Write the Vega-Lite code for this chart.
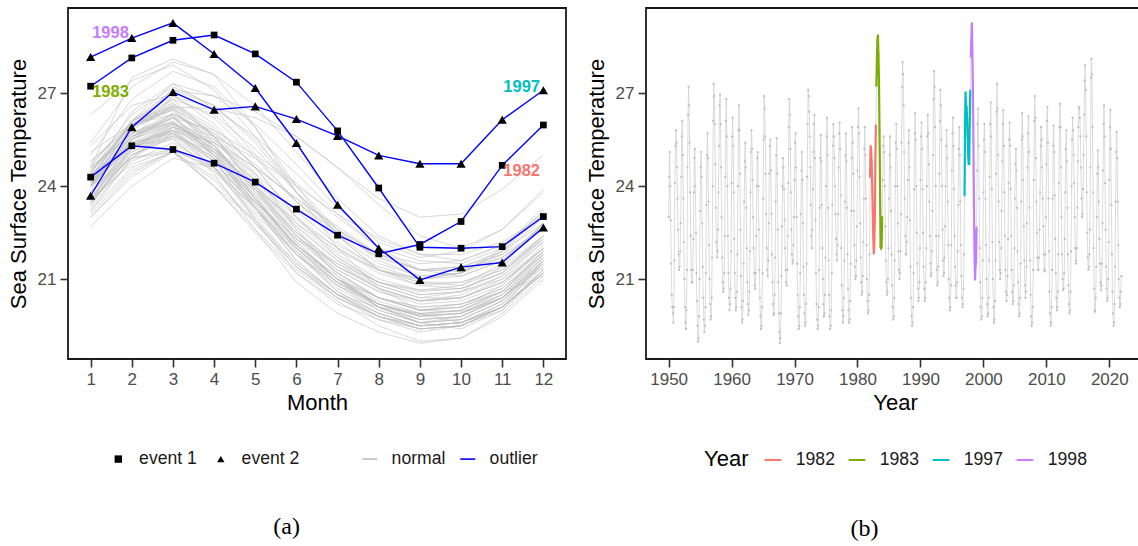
{
"$schema": "https://vega.github.io/schema/vega-lite/v6.json",
"padding": {"left": 6, "top": 7, "right": 0, "bottom": 0},
"autosize": {"type": "pad"},
"background": "white",
"datasets": {"sst": [
{"d":"1950-01","t":23.0},{"d":"1950-02","t":24.3},{"d":"1950-03","t":25.1},{"d":"1950-04","t":24.0},{"d":"1950-05","t":22.9},{"d":"1950-06","t":21.5},{"d":"1950-07","t":20.5},{"d":"1950-08","t":20.1},{"d":"1950-09","t":19.9},{"d":"1950-10","t":19.6},{"d":"1950-11","t":20.1},{"d":"1950-12","t":21.6},
{"d":"1951-01","t":24.1},{"d":"1951-02","t":25.3},{"d":"1951-03","t":25.8},{"d":"1951-04","t":25.4},{"d":"1951-05","t":24.6},{"d":"1951-06","t":23.6},{"d":"1951-07","t":22.6},{"d":"1951-08","t":21.8},{"d":"1951-09","t":21.3},{"d":"1951-10","t":21.4},{"d":"1951-11","t":21.9},{"d":"1951-12","t":22.8},
{"d":"1952-01","t":24.3},{"d":"1952-02","t":25.6},{"d":"1952-03","t":26.1},{"d":"1952-04","t":25.0},{"d":"1952-05","t":23.6},{"d":"1952-06","t":22.2},{"d":"1952-07","t":21.0},{"d":"1952-08","t":20.1},{"d":"1952-09","t":19.6},{"d":"1952-10","t":19.4},{"d":"1952-11","t":20.0},{"d":"1952-12","t":21.3},
{"d":"1953-01","t":24.6},{"d":"1953-02","t":26.3},{"d":"1953-03","t":27.2},{"d":"1953-04","t":26.6},{"d":"1953-05","t":25.4},{"d":"1953-06","t":23.8},{"d":"1953-07","t":22.4},{"d":"1953-08","t":21.3},{"d":"1953-09","t":20.9},{"d":"1953-10","t":20.9},{"d":"1953-11","t":21.3},{"d":"1953-12","t":22.3},
{"d":"1954-01","t":23.8},{"d":"1954-02","t":24.9},{"d":"1954-03","t":25.2},{"d":"1954-04","t":24.0},{"d":"1954-05","t":22.5},{"d":"1954-06","t":21.2},{"d":"1954-07","t":20.3},{"d":"1954-08","t":19.5},{"d":"1954-09","t":19.0},{"d":"1954-10","t":19.1},{"d":"1954-11","t":19.8},{"d":"1954-12","t":21.0},
{"d":"1955-01","t":23.2},{"d":"1955-02","t":24.6},{"d":"1955-03","t":25.1},{"d":"1955-04","t":24.3},{"d":"1955-05","t":22.8},{"d":"1955-06","t":21.4},{"d":"1955-07","t":20.4},{"d":"1955-08","t":19.7},{"d":"1955-09","t":19.3},{"d":"1955-10","t":19.5},{"d":"1955-11","t":20.1},{"d":"1955-12","t":21.2},
{"d":"1956-01","t":23.4},{"d":"1956-02","t":25.0},{"d":"1956-03","t":25.7},{"d":"1956-04","t":24.9},{"d":"1956-05","t":23.5},{"d":"1956-06","t":22.1},{"d":"1956-07","t":21.0},{"d":"1956-08","t":20.2},{"d":"1956-09","t":19.7},{"d":"1956-10","t":19.8},{"d":"1956-11","t":20.4},{"d":"1956-12","t":21.7},
{"d":"1957-01","t":24.0},{"d":"1957-02","t":26.1},{"d":"1957-03","t":27.3},{"d":"1957-04","t":26.9},{"d":"1957-05","t":26.0},{"d":"1957-06","t":24.7},{"d":"1957-07","t":23.3},{"d":"1957-08","t":22.2},{"d":"1957-09","t":21.7},{"d":"1957-10","t":21.9},{"d":"1957-11","t":22.6},{"d":"1957-12","t":23.8},
{"d":"1958-01","t":25.3},{"d":"1958-02","t":26.6},{"d":"1958-03","t":26.95},{"d":"1958-04","t":26.0},{"d":"1958-05","t":24.6},{"d":"1958-06","t":23.0},{"d":"1958-07","t":21.7},{"d":"1958-08","t":20.9},{"d":"1958-09","t":20.6},{"d":"1958-10","t":20.7},{"d":"1958-11","t":21.2},{"d":"1958-12","t":22.4},
{"d":"1959-01","t":24.3},{"d":"1959-02","t":26.1},{"d":"1959-03","t":26.8},{"d":"1959-04","t":25.6},{"d":"1959-05","t":24.0},{"d":"1959-06","t":22.4},{"d":"1959-07","t":21.2},{"d":"1959-08","t":20.4},{"d":"1959-09","t":20.0},{"d":"1959-10","t":20.2},{"d":"1959-11","t":20.7},{"d":"1959-12","t":21.9},
{"d":"1960-01","t":24.1},{"d":"1960-02","t":25.6},{"d":"1960-03","t":26.2},{"d":"1960-04","t":25.3},{"d":"1960-05","t":23.8},{"d":"1960-06","t":22.3},{"d":"1960-07","t":21.2},{"d":"1960-08","t":20.4},{"d":"1960-09","t":20.0},{"d":"1960-10","t":20.1},{"d":"1960-11","t":20.6},{"d":"1960-12","t":21.8},
{"d":"1961-01","t":24.0},{"d":"1961-02","t":25.8},{"d":"1961-03","t":26.6},{"d":"1961-04","t":25.8},{"d":"1961-05","t":24.4},{"d":"1961-06","t":22.6},{"d":"1961-07","t":21.1},{"d":"1961-08","t":20.1},{"d":"1961-09","t":19.6},{"d":"1961-10","t":19.7},{"d":"1961-11","t":20.3},{"d":"1961-12","t":21.5},
{"d":"1962-01","t":23.5},{"d":"1962-02","t":24.8},{"d":"1962-03","t":25.4},{"d":"1962-04","t":24.6},{"d":"1962-05","t":23.3},{"d":"1962-06","t":22.0},{"d":"1962-07","t":20.9},{"d":"1962-08","t":20.2},{"d":"1962-09","t":19.85},{"d":"1962-10","t":20.0},{"d":"1962-11","t":20.6},{"d":"1962-12","t":21.9},
{"d":"1963-01","t":23.8},{"d":"1963-02","t":25.1},{"d":"1963-03","t":25.8},{"d":"1963-04","t":25.2},{"d":"1963-05","t":24.2},{"d":"1963-06","t":23.0},{"d":"1963-07","t":22.0},{"d":"1963-08","t":21.2},{"d":"1963-09","t":20.8},{"d":"1963-10","t":20.7},{"d":"1963-11","t":21.2},{"d":"1963-12","t":22.4},
{"d":"1964-01","t":24.0},{"d":"1964-02","t":24.9},{"d":"1964-03","t":25.1},{"d":"1964-04","t":24.0},{"d":"1964-05","t":22.6},{"d":"1964-06","t":21.3},{"d":"1964-07","t":20.4},{"d":"1964-08","t":19.8},{"d":"1964-09","t":19.4},{"d":"1964-10","t":19.5},{"d":"1964-11","t":20.1},{"d":"1964-12","t":21.2},
{"d":"1965-01","t":23.6},{"d":"1965-02","t":25.5},{"d":"1965-03","t":26.9},{"d":"1965-04","t":26.5},{"d":"1965-05","t":25.6},{"d":"1965-06","t":24.4},{"d":"1965-07","t":23.1},{"d":"1965-08","t":22.0},{"d":"1965-09","t":21.3},{"d":"1965-10","t":21.1},{"d":"1965-11","t":21.6},{"d":"1965-12","t":22.8},
{"d":"1966-01","t":24.4},{"d":"1966-02","t":25.3},{"d":"1966-03","t":25.5},{"d":"1966-04","t":24.5},{"d":"1966-05","t":23.1},{"d":"1966-06","t":21.8},{"d":"1966-07","t":20.9},{"d":"1966-08","t":20.2},{"d":"1966-09","t":19.85},{"d":"1966-10","t":19.9},{"d":"1966-11","t":20.5},{"d":"1966-12","t":21.7},
{"d":"1967-01","t":23.5},{"d":"1967-02","t":25.0},{"d":"1967-03","t":25.55},{"d":"1967-04","t":24.4},{"d":"1967-05","t":22.6},{"d":"1967-06","t":20.9},{"d":"1967-07","t":19.9},{"d":"1967-08","t":19.3},{"d":"1967-09","t":18.94},{"d":"1967-10","t":19.1},{"d":"1967-11","t":19.9},{"d":"1967-12","t":21.1},
{"d":"1968-01","t":22.7},{"d":"1968-02","t":24.0},{"d":"1968-03","t":24.9},{"d":"1968-04","t":24.6},{"d":"1968-05","t":23.9},{"d":"1968-06","t":22.9},{"d":"1968-07","t":22.0},{"d":"1968-08","t":21.3},{"d":"1968-09","t":20.9},{"d":"1968-10","t":20.8},{"d":"1968-11","t":21.3},{"d":"1968-12","t":22.4},
{"d":"1969-01","t":24.1},{"d":"1969-02","t":25.9},{"d":"1969-03","t":26.8},{"d":"1969-04","t":26.3},{"d":"1969-05","t":25.2},{"d":"1969-06","t":23.8},{"d":"1969-07","t":22.6},{"d":"1969-08","t":21.8},{"d":"1969-09","t":21.5},{"d":"1969-10","t":21.6},{"d":"1969-11","t":22.1},{"d":"1969-12","t":23.0},
{"d":"1970-01","t":24.2},{"d":"1970-02","t":25.4},{"d":"1970-03","t":25.7},{"d":"1970-04","t":24.6},{"d":"1970-05","t":23.0},{"d":"1970-06","t":21.5},{"d":"1970-07","t":20.5},{"d":"1970-08","t":19.8},{"d":"1970-09","t":19.4},{"d":"1970-10","t":19.5},{"d":"1970-11","t":20.1},{"d":"1970-12","t":21.2},
{"d":"1971-01","t":23.1},{"d":"1971-02","t":24.5},{"d":"1971-03","t":25.1},{"d":"1971-04","t":24.2},{"d":"1971-05","t":22.8},{"d":"1971-06","t":21.4},{"d":"1971-07","t":20.5},{"d":"1971-08","t":19.9},{"d":"1971-09","t":19.5},{"d":"1971-10","t":19.6},{"d":"1971-11","t":20.2},{"d":"1971-12","t":21.5},
{"d":"1972-01","t":24.3},{"d":"1972-02","t":26.0},{"d":"1972-03","t":27.1},{"d":"1972-04","t":26.9},{"d":"1972-05","t":26.4},{"d":"1972-06","t":25.6},{"d":"1972-07","t":24.6},{"d":"1972-08","t":23.4},{"d":"1972-09","t":22.4},{"d":"1972-10","t":22.0},{"d":"1972-11","t":22.6},{"d":"1972-12","t":23.9},
{"d":"1973-01","t":25.1},{"d":"1973-02","t":26.0},{"d":"1973-03","t":26.3},{"d":"1973-04","t":24.9},{"d":"1973-05","t":22.9},{"d":"1973-06","t":21.2},{"d":"1973-07","t":20.2},{"d":"1973-08","t":19.7},{"d":"1973-09","t":19.4},{"d":"1973-10","t":19.5},{"d":"1973-11","t":20.1},{"d":"1973-12","t":21.3},
{"d":"1974-01","t":23.3},{"d":"1974-02","t":24.9},{"d":"1974-03","t":25.65},{"d":"1974-04","t":24.8},{"d":"1974-05","t":23.4},{"d":"1974-06","t":22.0},{"d":"1974-07","t":21.0},{"d":"1974-08","t":20.2},{"d":"1974-09","t":19.8},{"d":"1974-10","t":19.9},{"d":"1974-11","t":20.5},{"d":"1974-12","t":21.7},
{"d":"1975-01","t":24.0},{"d":"1975-02","t":25.6},{"d":"1975-03","t":26.2},{"d":"1975-04","t":25.0},{"d":"1975-05","t":23.3},{"d":"1975-06","t":21.6},{"d":"1975-07","t":20.5},{"d":"1975-08","t":19.8},{"d":"1975-09","t":19.4},{"d":"1975-10","t":19.5},{"d":"1975-11","t":20.0},{"d":"1975-12","t":21.2},
{"d":"1976-01","t":23.4},{"d":"1976-02","t":25.3},{"d":"1976-03","t":26.0},{"d":"1976-04","t":25.6},{"d":"1976-05","t":24.9},{"d":"1976-06","t":24.0},{"d":"1976-07","t":23.1},{"d":"1976-08","t":22.3},{"d":"1976-09","t":21.8},{"d":"1976-10","t":21.6},{"d":"1976-11","t":22.1},{"d":"1976-12","t":23.1},
{"d":"1977-01","t":24.6},{"d":"1977-02","t":25.7},{"d":"1977-03","t":26.05},{"d":"1977-04","t":25.2},{"d":"1977-05","t":23.7},{"d":"1977-06","t":22.0},{"d":"1977-07","t":20.8},{"d":"1977-08","t":20.0},{"d":"1977-09","t":19.6},{"d":"1977-10","t":19.8},{"d":"1977-11","t":20.4},{"d":"1977-12","t":21.6},
{"d":"1978-01","t":23.5},{"d":"1978-02","t":25.0},{"d":"1978-03","t":25.7},{"d":"1978-04","t":24.8},{"d":"1978-05","t":23.3},{"d":"1978-06","t":21.8},{"d":"1978-07","t":20.7},{"d":"1978-08","t":20.0},{"d":"1978-09","t":19.6},{"d":"1978-10","t":19.7},{"d":"1978-11","t":20.3},{"d":"1978-12","t":21.5},
{"d":"1979-01","t":23.2},{"d":"1979-02","t":24.9},{"d":"1979-03","t":25.9},{"d":"1979-04","t":25.4},{"d":"1979-05","t":24.4},{"d":"1979-06","t":23.2},{"d":"1979-07","t":22.1},{"d":"1979-08","t":21.4},{"d":"1979-09","t":21.0},{"d":"1979-10","t":21.1},{"d":"1979-11","t":21.6},{"d":"1979-12","t":22.7},
{"d":"1980-01","t":24.5},{"d":"1980-02","t":25.9},{"d":"1980-03","t":26.5},{"d":"1980-04","t":25.7},{"d":"1980-05","t":24.3},{"d":"1980-06","t":22.8},{"d":"1980-07","t":21.7},{"d":"1980-08","t":20.9},{"d":"1980-09","t":20.5},{"d":"1980-10","t":20.6},{"d":"1980-11","t":21.1},{"d":"1980-12","t":22.2},
{"d":"1981-01","t":23.6},{"d":"1981-02","t":25.2},{"d":"1981-03","t":25.9},{"d":"1981-04","t":25.0},{"d":"1981-05","t":23.6},{"d":"1981-06","t":22.1},{"d":"1981-07","t":21.0},{"d":"1981-08","t":20.3},{"d":"1981-09","t":19.9},{"d":"1981-10","t":20.0},{"d":"1981-11","t":20.5},{"d":"1981-12","t":21.8},
{"d":"1982-01","t":24.29},{"d":"1982-02","t":25.30},{"d":"1982-03","t":25.18},{"d":"1982-04","t":24.74},{"d":"1982-05","t":24.13},{"d":"1982-06","t":23.26},{"d":"1982-07","t":22.42},{"d":"1982-08","t":21.82},{"d":"1982-09","t":22.12},{"d":"1982-10","t":22.86},{"d":"1982-11","t":24.67},{"d":"1982-12","t":25.97},
{"d":"1983-01","t":27.22},{"d":"1983-02","t":28.13},{"d":"1983-03","t":28.70},{"d":"1983-04","t":28.87},{"d":"1983-05","t":28.26},{"d":"1983-06","t":27.35},{"d":"1983-07","t":25.78},{"d":"1983-08","t":23.94},{"d":"1983-09","t":22.03},{"d":"1983-10","t":22.00},{"d":"1983-11","t":22.05},{"d":"1983-12","t":23.02},
{"d":"1984-01","t":24.2},{"d":"1984-02","t":25.3},{"d":"1984-03","t":25.6},{"d":"1984-04","t":25.1},{"d":"1984-05","t":24.0},{"d":"1984-06","t":22.7},{"d":"1984-07","t":21.6},{"d":"1984-08","t":20.9},{"d":"1984-09","t":20.5},{"d":"1984-10","t":20.6},{"d":"1984-11","t":21.0},{"d":"1984-12","t":22.0},
{"d":"1985-01","t":23.6},{"d":"1985-02","t":25.0},{"d":"1985-03","t":25.6},{"d":"1985-04","t":24.6},{"d":"1985-05","t":23.2},{"d":"1985-06","t":21.8},{"d":"1985-07","t":20.8},{"d":"1985-08","t":20.1},{"d":"1985-09","t":19.7},{"d":"1985-10","t":19.8},{"d":"1985-11","t":20.4},{"d":"1985-12","t":21.6},
{"d":"1986-01","t":24.0},{"d":"1986-02","t":25.4},{"d":"1986-03","t":26.0},{"d":"1986-04","t":25.2},{"d":"1986-05","t":24.0},{"d":"1986-06","t":22.8},{"d":"1986-07","t":21.9},{"d":"1986-08","t":21.3},{"d":"1986-09","t":21.0},{"d":"1986-10","t":21.2},{"d":"1986-11","t":21.9},{"d":"1986-12","t":23.1},
{"d":"1987-01","t":25.4},{"d":"1987-02","t":27.2},{"d":"1987-03","t":28.0},{"d":"1987-04","t":27.6},{"d":"1987-05","t":26.6},{"d":"1987-06","t":25.1},{"d":"1987-07","t":23.6},{"d":"1987-08","t":22.4},{"d":"1987-09","t":21.8},{"d":"1987-10","t":21.8},{"d":"1987-11","t":22.2},{"d":"1987-12","t":23.0},
{"d":"1988-01","t":24.2},{"d":"1988-02","t":25.4},{"d":"1988-03","t":25.8},{"d":"1988-04","t":24.6},{"d":"1988-05","t":22.9},{"d":"1988-06","t":21.4},{"d":"1988-07","t":20.4},{"d":"1988-08","t":19.8},{"d":"1988-09","t":19.5},{"d":"1988-10","t":19.6},{"d":"1988-11","t":20.1},{"d":"1988-12","t":21.2},
{"d":"1989-01","t":23.9},{"d":"1989-02","t":25.7},{"d":"1989-03","t":26.35},{"d":"1989-04","t":25.5},{"d":"1989-05","t":24.0},{"d":"1989-06","t":22.5},{"d":"1989-07","t":21.5},{"d":"1989-08","t":20.7},{"d":"1989-09","t":20.3},{"d":"1989-10","t":20.4},{"d":"1989-11","t":20.9},{"d":"1989-12","t":22.0},
{"d":"1990-01","t":24.2},{"d":"1990-02","t":25.6},{"d":"1990-03","t":26.05},{"d":"1990-04","t":25.2},{"d":"1990-05","t":23.9},{"d":"1990-06","t":22.5},{"d":"1990-07","t":21.4},{"d":"1990-08","t":20.7},{"d":"1990-09","t":20.3},{"d":"1990-10","t":20.4},{"d":"1990-11","t":20.9},{"d":"1990-12","t":22.0},
{"d":"1991-01","t":24.0},{"d":"1991-02","t":25.6},{"d":"1991-03","t":26.3},{"d":"1991-04","t":25.7},{"d":"1991-05","t":24.7},{"d":"1991-06","t":23.5},{"d":"1991-07","t":22.4},{"d":"1991-08","t":21.5},{"d":"1991-09","t":21.1},{"d":"1991-10","t":21.2},{"d":"1991-11","t":21.9},{"d":"1991-12","t":23.2},
{"d":"1992-01","t":25.0},{"d":"1992-02","t":26.8},{"d":"1992-03","t":27.7},{"d":"1992-04","t":27.2},{"d":"1992-05","t":25.9},{"d":"1992-06","t":24.0},{"d":"1992-07","t":22.4},{"d":"1992-08","t":21.3},{"d":"1992-09","t":20.8},{"d":"1992-10","t":20.9},{"d":"1992-11","t":21.4},{"d":"1992-12","t":22.4},
{"d":"1993-01","t":24.4},{"d":"1993-02","t":26.1},{"d":"1993-03","t":27.1},{"d":"1993-04","t":26.6},{"d":"1993-05","t":25.5},{"d":"1993-06","t":24.0},{"d":"1993-07","t":22.6},{"d":"1993-08","t":21.6},{"d":"1993-09","t":21.1},{"d":"1993-10","t":21.2},{"d":"1993-11","t":21.7},{"d":"1993-12","t":22.7},
{"d":"1994-01","t":24.0},{"d":"1994-02","t":25.3},{"d":"1994-03","t":25.8},{"d":"1994-04","t":24.9},{"d":"1994-05","t":23.5},{"d":"1994-06","t":22.1},{"d":"1994-07","t":21.0},{"d":"1994-08","t":20.4},{"d":"1994-09","t":20.0},{"d":"1994-10","t":20.1},{"d":"1994-11","t":20.8},{"d":"1994-12","t":22.1},
{"d":"1995-01","t":24.5},{"d":"1995-02","t":25.7},{"d":"1995-03","t":26.2},{"d":"1995-04","t":25.3},{"d":"1995-05","t":23.9},{"d":"1995-06","t":22.4},{"d":"1995-07","t":21.4},{"d":"1995-08","t":20.8},{"d":"1995-09","t":20.4},{"d":"1995-10","t":20.4},{"d":"1995-11","t":20.9},{"d":"1995-12","t":21.9},
{"d":"1996-01","t":23.4},{"d":"1996-02","t":25.2},{"d":"1996-03","t":25.9},{"d":"1996-04","t":25.0},{"d":"1996-05","t":23.5},{"d":"1996-06","t":22.1},{"d":"1996-07","t":21.1},{"d":"1996-08","t":20.4},{"d":"1996-09","t":20.1},{"d":"1996-10","t":20.2},{"d":"1996-11","t":20.7},{"d":"1996-12","t":21.8},
{"d":"1997-01","t":23.69},{"d":"1997-02","t":25.90},{"d":"1997-03","t":27.03},{"d":"1997-04","t":26.46},{"d":"1997-05","t":26.57},{"d":"1997-06","t":26.16},{"d":"1997-07","t":25.62},{"d":"1997-08","t":24.99},{"d":"1997-09","t":24.72},{"d":"1997-10","t":24.72},{"d":"1997-11","t":26.14},{"d":"1997-12","t":27.09},
{"d":"1998-01","t":28.16},{"d":"1998-02","t":28.77},{"d":"1998-03","t":29.26},{"d":"1998-04","t":28.26},{"d":"1998-05","t":27.16},{"d":"1998-06","t":25.39},{"d":"1998-07","t":23.40},{"d":"1998-08","t":22.00},{"d":"1998-09","t":20.98},{"d":"1998-10","t":21.39},{"d":"1998-11","t":21.54},{"d":"1998-12","t":22.67},
{"d":"1999-01","t":24.5},{"d":"1999-02","t":26.0},{"d":"1999-03","t":26.5},{"d":"1999-04","t":25.3},{"d":"1999-05","t":23.6},{"d":"1999-06","t":22.0},{"d":"1999-07","t":20.9},{"d":"1999-08","t":20.1},{"d":"1999-09","t":19.7},{"d":"1999-10","t":19.8},{"d":"1999-11","t":20.4},{"d":"1999-12","t":21.6},
{"d":"2000-01","t":23.8},{"d":"2000-02","t":25.5},{"d":"2000-03","t":26.0},{"d":"2000-04","t":25.1},{"d":"2000-05","t":23.6},{"d":"2000-06","t":22.1},{"d":"2000-07","t":21.0},{"d":"2000-08","t":20.2},{"d":"2000-09","t":19.8},{"d":"2000-10","t":19.9},{"d":"2000-11","t":20.4},{"d":"2000-12","t":21.6},
{"d":"2001-01","t":24.3},{"d":"2001-02","t":26.0},{"d":"2001-03","t":26.7},{"d":"2001-04","t":25.6},{"d":"2001-05","t":23.9},{"d":"2001-06","t":22.2},{"d":"2001-07","t":21.0},{"d":"2001-08","t":20.1},{"d":"2001-09","t":19.6},{"d":"2001-10","t":19.7},{"d":"2001-11","t":20.3},{"d":"2001-12","t":21.6},
{"d":"2002-01","t":24.4},{"d":"2002-02","t":26.4},{"d":"2002-03","t":27.3},{"d":"2002-04","t":26.5},{"d":"2002-05","t":25.0},{"d":"2002-06","t":23.5},{"d":"2002-07","t":22.2},{"d":"2002-08","t":21.3},{"d":"2002-09","t":21.0},{"d":"2002-10","t":21.2},{"d":"2002-11","t":22.0},{"d":"2002-12","t":23.2},
{"d":"2003-01","t":24.8},{"d":"2003-02","t":26.0},{"d":"2003-03","t":26.45},{"d":"2003-04","t":25.3},{"d":"2003-05","t":23.8},{"d":"2003-06","t":22.4},{"d":"2003-07","t":21.3},{"d":"2003-08","t":20.6},{"d":"2003-09","t":20.3},{"d":"2003-10","t":20.5},{"d":"2003-11","t":21.1},{"d":"2003-12","t":22.3},
{"d":"2004-01","t":24.1},{"d":"2004-02","t":25.5},{"d":"2004-03","t":26.05},{"d":"2004-04","t":25.3},{"d":"2004-05","t":23.9},{"d":"2004-06","t":22.4},{"d":"2004-07","t":21.3},{"d":"2004-08","t":20.6},{"d":"2004-09","t":20.2},{"d":"2004-10","t":20.3},{"d":"2004-11","t":20.8},{"d":"2004-12","t":22.0},
{"d":"2005-01","t":23.6},{"d":"2005-02","t":24.7},{"d":"2005-03","t":25.2},{"d":"2005-04","t":24.5},{"d":"2005-05","t":23.3},{"d":"2005-06","t":21.9},{"d":"2005-07","t":20.9},{"d":"2005-08","t":20.2},{"d":"2005-09","t":19.8},{"d":"2005-10","t":19.9},{"d":"2005-11","t":20.4},{"d":"2005-12","t":21.5},
{"d":"2006-01","t":23.5},{"d":"2006-02","t":25.5},{"d":"2006-03","t":26.35},{"d":"2006-04","t":25.6},{"d":"2006-05","t":24.2},{"d":"2006-06","t":22.7},{"d":"2006-07","t":21.6},{"d":"2006-08","t":20.8},{"d":"2006-09","t":20.4},{"d":"2006-10","t":20.6},{"d":"2006-11","t":21.4},{"d":"2006-12","t":22.8},
{"d":"2007-01","t":24.6},{"d":"2007-02","t":25.7},{"d":"2007-03","t":26.25},{"d":"2007-04","t":25.1},{"d":"2007-05","t":23.3},{"d":"2007-06","t":21.6},{"d":"2007-07","t":20.5},{"d":"2007-08","t":19.8},{"d":"2007-09","t":19.5},{"d":"2007-10","t":19.6},{"d":"2007-11","t":20.1},{"d":"2007-12","t":21.3},
{"d":"2008-01","t":24.2},{"d":"2008-02","t":26.1},{"d":"2008-03","t":26.9},{"d":"2008-04","t":26.2},{"d":"2008-05","t":24.9},{"d":"2008-06","t":23.5},{"d":"2008-07","t":22.5},{"d":"2008-08","t":21.7},{"d":"2008-09","t":21.3},{"d":"2008-10","t":21.3},{"d":"2008-11","t":21.7},{"d":"2008-12","t":22.6},
{"d":"2009-01","t":23.8},{"d":"2009-02","t":25.3},{"d":"2009-03","t":25.9},{"d":"2009-04","t":25.5},{"d":"2009-05","t":24.6},{"d":"2009-06","t":23.6},{"d":"2009-07","t":22.7},{"d":"2009-08","t":21.8},{"d":"2009-09","t":21.3},{"d":"2009-10","t":21.25},{"d":"2009-11","t":21.8},{"d":"2009-12","t":23.0},
{"d":"2010-01","t":24.7},{"d":"2010-02","t":26.1},{"d":"2010-03","t":26.55},{"d":"2010-04","t":25.4},{"d":"2010-05","t":23.6},{"d":"2010-06","t":21.9},{"d":"2010-07","t":20.6},{"d":"2010-08","t":19.9},{"d":"2010-09","t":19.5},{"d":"2010-10","t":19.6},{"d":"2010-11","t":20.1},{"d":"2010-12","t":21.3},
{"d":"2011-01","t":23.6},{"d":"2011-02","t":25.3},{"d":"2011-03","t":25.95},{"d":"2011-04","t":25.1},{"d":"2011-05","t":23.7},{"d":"2011-06","t":22.3},{"d":"2011-07","t":21.2},{"d":"2011-08","t":20.4},{"d":"2011-09","t":20.0},{"d":"2011-10","t":20.1},{"d":"2011-11","t":20.6},{"d":"2011-12","t":21.8},
{"d":"2012-01","t":24.1},{"d":"2012-02","t":25.9},{"d":"2012-03","t":26.65},{"d":"2012-04","t":25.9},{"d":"2012-05","t":24.6},{"d":"2012-06","t":23.0},{"d":"2012-07","t":21.8},{"d":"2012-08","t":21.0},{"d":"2012-09","t":20.65},{"d":"2012-10","t":20.7},{"d":"2012-11","t":21.2},{"d":"2012-12","t":22.3},
{"d":"2013-01","t":23.8},{"d":"2013-02","t":25.2},{"d":"2013-03","t":25.8},{"d":"2013-04","t":24.8},{"d":"2013-05","t":23.3},{"d":"2013-06","t":21.8},{"d":"2013-07","t":20.8},{"d":"2013-08","t":20.2},{"d":"2013-09","t":19.9},{"d":"2013-10","t":20.0},{"d":"2013-11","t":20.6},{"d":"2013-12","t":21.9},
{"d":"2014-01","t":24.0},{"d":"2014-02","t":25.5},{"d":"2014-03","t":26.2},{"d":"2014-04","t":25.8},{"d":"2014-05","t":25.0},{"d":"2014-06","t":24.1},{"d":"2014-07","t":23.0},{"d":"2014-08","t":22.0},{"d":"2014-09","t":21.6},{"d":"2014-10","t":21.5},{"d":"2014-11","t":22.0},{"d":"2014-12","t":23.3},
{"d":"2015-01","t":24.8},{"d":"2015-02","t":25.9},{"d":"2015-03","t":26.55},{"d":"2015-04","t":26.5},{"d":"2015-05","t":26.2},{"d":"2015-06","t":25.6},{"d":"2015-07","t":24.6},{"d":"2015-08","t":23.6},{"d":"2015-09","t":23.0},{"d":"2015-10","t":23.1},{"d":"2015-11","t":23.9},{"d":"2015-12","t":25.0},
{"d":"2016-01","t":26.3},{"d":"2016-02","t":27.4},{"d":"2016-03","t":27.9},{"d":"2016-04","t":27.1},{"d":"2016-05","t":25.6},{"d":"2016-06","t":23.8},{"d":"2016-07","t":22.5},{"d":"2016-08","t":21.7},{"d":"2016-09","t":21.3},{"d":"2016-10","t":21.4},{"d":"2016-11","t":21.8},{"d":"2016-12","t":22.6},
{"d":"2017-01","t":24.6},{"d":"2017-02","t":27.5},{"d":"2017-03","t":28.1},{"d":"2017-04","t":27.6},{"d":"2017-05","t":25.9},{"d":"2017-06","t":23.8},{"d":"2017-07","t":22.0},{"d":"2017-08","t":20.7},{"d":"2017-09","t":20.0},{"d":"2017-10","t":19.95},{"d":"2017-11","t":20.4},{"d":"2017-12","t":21.4},
{"d":"2018-01","t":23.0},{"d":"2018-02","t":24.4},{"d":"2018-03","t":25.15},{"d":"2018-04","t":24.6},{"d":"2018-05","t":23.5},{"d":"2018-06","t":22.3},{"d":"2018-07","t":21.5},{"d":"2018-08","t":20.9},{"d":"2018-09","t":20.65},{"d":"2018-10","t":20.8},{"d":"2018-11","t":21.5},{"d":"2018-12","t":22.8},
{"d":"2019-01","t":24.5},{"d":"2019-02","t":26.0},{"d":"2019-03","t":26.6},{"d":"2019-04","t":25.6},{"d":"2019-05","t":24.1},{"d":"2019-06","t":22.6},{"d":"2019-07","t":21.4},{"d":"2019-08","t":20.7},{"d":"2019-09","t":20.3},{"d":"2019-10","t":20.4},{"d":"2019-11","t":21.0},{"d":"2019-12","t":22.2},
{"d":"2020-01","t":24.2},{"d":"2020-02","t":25.9},{"d":"2020-03","t":26.45},{"d":"2020-04","t":25.2},{"d":"2020-05","t":23.4},{"d":"2020-06","t":21.8},{"d":"2020-07","t":20.6},{"d":"2020-08","t":19.9},{"d":"2020-09","t":19.5},{"d":"2020-10","t":19.6},{"d":"2020-11","t":20.2},{"d":"2020-12","t":21.4},
{"d":"2021-01","t":23.5},{"d":"2021-02","t":25.1},{"d":"2021-03","t":25.75},{"d":"2021-04","t":24.9},{"d":"2021-05","t":23.5},{"d":"2021-06","t":22.1},{"d":"2021-07","t":21.0},{"d":"2021-08","t":20.4},{"d":"2021-09","t":20.1},{"d":"2021-10","t":20.2},{"d":"2021-11","t":20.6},{"d":"2021-12","t":21.1}
]},
"spacing": 80,
"bounds": "flush",
"resolve": {
 "scale": {"color": "independent", "shape": "independent", "fill": "independent"},
 "legend": {"color": "independent", "shape": "independent", "fill": "independent"}
},
"hconcat": [
{
 "width": 498, "height": 351,
 "title": {"text": "(a)", "orient": "bottom", "anchor": "middle", "frame": "bounds", "offset": 47},
 "data": {"name": "sst"},
 "encoding": {
  "x": {"field": "d", "timeUnit": "utcmonth", "type": "ordinal", "scale": {"type": "point", "padding": 0.55},
        "axis": {"title": "Month", "labelExpr": "utcFormat(datum.value, '%-m')", "labelAngle": 0}},
  "y": {"field": "t", "type": "quantitative", "scale": {"domain": [18.43, 29.74], "nice": false, "zero": false},
        "axis": {"title": "Sea Surface Temperature", "values": [21, 24, 27]}}
 },
 "layer": [
  {"transform": [{"filter": "indexof([1982,1983,1997,1998], utcyear(toDate(datum.d))) < 0"}],
   "mark": {"type": "line", "strokeWidth": 1, "opacity": 0.6},
   "encoding": {
    "detail": {"field": "d", "timeUnit": "utcyear", "type": "nominal"},
    "color": {"datum": "normal", "type": "nominal",
      "scale": {"domain": ["normal", "outlier"], "range": ["#bebebe", "#0000ff"]},
      "legend": {"title": null, "orient": "none", "legendX": 293, "legendY": 442, "direction": "horizontal",
                 "symbolType": "stroke", "symbolSize": 225, "symbolStrokeWidth": 1.6, "symbolOpacity": 1,
                 "labelOffset": 13, "columnPadding": 11}}
   }},
  {"transform": [{"filter": "indexof([1982,1983,1997,1998], utcyear(toDate(datum.d))) >= 0"}],
   "mark": {"type": "line", "strokeWidth": 1.4},
   "encoding": {
    "detail": {"field": "d", "timeUnit": "utcyear", "type": "nominal"},
    "color": {"datum": "outlier", "type": "nominal"}
   }},
  {"transform": [{"filter": "indexof([1982,1983], utcyear(toDate(datum.d))) >= 0"}],
   "mark": {"type": "point", "filled": true, "color": "black", "opacity": 1, "size": 45},
   "encoding": {
    "shape": {"datum": "event 1", "type": "nominal",
      "scale": {"domain": ["event 1", "event 2"], "range": ["square", "triangle-up"]},
      "legend": {"title": null, "orient": "none", "legendX": 41.5, "legendY": 442, "direction": "horizontal",
                 "symbolSize": 55, "symbolFillColor": "black", "symbolStrokeWidth": 0,
                 "labelOffset": 12, "columnPadding": 14.5}}
   }},
  {"transform": [{"filter": "indexof([1997,1998], utcyear(toDate(datum.d))) >= 0"}],
   "mark": {"type": "point", "filled": true, "color": "black", "opacity": 1, "size": 86},
   "encoding": {
    "shape": {"datum": "event 2", "type": "nominal"}
   }},
  {"data": {"values": [{"d": "1998-01", "t": 28.92, "lab": "1998"}, {"d": "1983-01", "t": 27.02, "lab": "1983"}]},
   "mark": {"type": "text", "align": "left", "baseline": "middle", "dx": 1.5, "fontWeight": "bold", "fontSize": 16.5},
   "encoding": {
    "text": {"field": "lab"},
    "fill": {"field": "lab", "type": "nominal",
      "scale": {"domain": ["1982", "1983", "1997", "1998"], "range": ["#F8766D", "#7CAE00", "#00BFC4", "#C77CFF"]},
      "legend": null}
   }},
  {"data": {"values": [{"d": "1997-12", "t": 27.19, "lab": "1997"}, {"d": "1982-12", "t": 24.48, "lab": "1982"}]},
   "mark": {"type": "text", "align": "right", "baseline": "middle", "dx": -3.3, "fontWeight": "bold", "fontSize": 16.5},
   "encoding": {
    "text": {"field": "lab"},
    "fill": {"field": "lab", "type": "nominal", "legend": null}
   }}
 ]
},
{
 "width": 498, "height": 351,
 "title": {"text": "(b)", "orient": "bottom", "anchor": "middle", "frame": "bounds", "offset": 47},
 "data": {"name": "sst"},
 "encoding": {
  "x": {"field": "d", "type": "temporal",
        "scale": {"type": "utc", "domain": [{"year": 1946, "month": 5, "date": 28, "utc": true}, {"year": 2025, "month": 7, "date": 6, "utc": true}]},
        "axis": {"title": "Year", "format": "%Y", "formatType": "utc", "tickCount": {"interval": "year", "step": 10}}},
  "y": {"field": "t", "type": "quantitative", "scale": {"domain": [18.43, 29.74], "nice": false, "zero": false},
        "axis": {"title": "Sea Surface Temperature", "values": [21, 24, 27]}}
 },
 "layer": [
  {"mark": {"type": "line", "color": "#d2d2d2", "strokeWidth": 0.8}},
  {"mark": {"type": "point", "filled": true, "color": "#bdbdbd", "opacity": 1, "size": 5}},
  {"transform": [{"filter": "indexof([1982,1983,1997,1998], utcyear(toDate(datum.d))) >= 0"}],
   "mark": {"type": "line", "strokeWidth": 2.2},
   "encoding": {
    "color": {"field": "d", "timeUnit": "utcyear", "type": "nominal",
      "scale": {"range": ["#F8766D", "#7CAE00", "#00BFC4", "#C77CFF"]},
      "legend": {"title": "Year", "titleOrient": "left", "orient": "none", "legendX": 58, "legendY": 442, "direction": "horizontal",
                 "symbolType": "stroke", "symbolSize": 279, "symbolStrokeWidth": 2, "titlePadding": 14.5,
                 "labelOffset": 13.3, "columnPadding": 9}}
   }}
 ]
}
],
"config": {
 "font": "Liberation Sans",
 "view": {"stroke": "#1a1a1a", "strokeWidth": 1.8},
 "axis": {"grid": false, "domain": false, "ticks": true, "tickSize": 8, "tickWidth": 1.6, "tickColor": "#333333",
          "labelFont": "Liberation Sans", "labelFontSize": 17, "labelColor": "#4d4d4d", "labelPadding": 4,
          "titleFont": "Liberation Sans", "titleFontSize": 22, "titleFontWeight": "normal", "titleColor": "#000000", "titlePadding": 7},
 "axisX": {"titlePadding": 5},
 "legend": {"labelFont": "Liberation Sans", "labelFontSize": 17.6, "labelColor": "#1a1a1a",
            "titleFont": "Liberation Sans", "titleFontSize": 22, "titleFontWeight": "normal", "titleColor": "#000000", "padding": 0},
 "title": {"font": "Liberation Serif", "fontSize": 24, "fontWeight": "normal", "color": "#000000"}
}
}
